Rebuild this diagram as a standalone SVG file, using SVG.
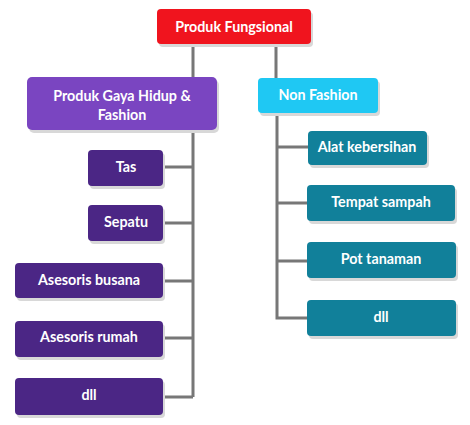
<svg xmlns="http://www.w3.org/2000/svg" width="470" height="425" viewBox="0 0 470 425">
<defs>
<style>
.sh{fill:#d8d8d8}
.t{font-family:Lato,"Open Sans","Liberation Sans",sans-serif;font-weight:bold;font-size:14.3px;fill:#fff;text-anchor:middle;dominant-baseline:central}
.c{stroke:#777;stroke-width:3;fill:none}
.red{fill:#f0141e}
.pur{fill:#7a45c1}
.dp{fill:#4b2685}
.cy{fill:#1fc8f3}
.tl{fill:#11809a}
</style>
</defs>
<rect width="470" height="425" fill="#fff"/>
<g id="connectors">
<path class="c" d="M193 44V78M276 44V79"/>
<path class="c" d="M193 130V397M163 167H193M163 223H193M163 281H193M163 338H193M163 397H193"/>
<path class="c" d="M277 113V318H308M277 147H308M277 203H308M277 261H308"/>
</g>
<g id="n0"><rect class="sh" x="159" y="12" width="154" height="35" rx="4"/><rect class="red" x="157" y="9" width="154" height="35" rx="4"/><text class="t" x="234" y="26">Produk Fungsional</text></g>
<g id="n1"><rect class="sh" x="29" y="80" width="190" height="53" rx="5"/><rect class="pur" x="27" y="77" width="190" height="53" rx="5"/><text class="t" x="122" y="95">Produk Gaya Hidup &amp;</text><text class="t" x="122" y="114">Fashion</text></g>
<g id="n2"><rect class="sh" x="260" y="81" width="120" height="35" rx="4"/><rect class="cy" x="258" y="78" width="120" height="35" rx="4"/><text class="t" x="318" y="94.5">Non Fashion</text></g>
<g id="n3"><rect class="sh" x="90" y="153" width="75" height="36" rx="4"/><rect class="dp" x="88" y="150" width="75" height="36" rx="4"/><text class="t" x="126" y="166">Tas</text></g>
<g id="n4"><rect class="sh" x="90" y="208" width="75" height="36" rx="4"/><rect class="dp" x="88" y="205" width="75" height="36" rx="4"/><text class="t" x="126" y="221.5">Sepatu</text></g>
<g id="n5"><rect class="sh" x="17" y="266" width="148" height="35" rx="4"/><rect class="dp" x="15" y="263" width="148" height="35" rx="4"/><text class="t" x="89" y="279">Asesoris busana</text></g>
<g id="n6"><rect class="sh" x="17" y="324" width="148" height="36" rx="4"/><rect class="dp" x="15" y="321" width="148" height="36" rx="4"/><text class="t" x="89" y="336.5">Asesoris rumah</text></g>
<g id="n7"><rect class="sh" x="17" y="381" width="148" height="37" rx="4"/><rect class="dp" x="15" y="378" width="148" height="37" rx="4"/><text class="t" x="89" y="394.5">dll</text></g>
<g id="n8"><rect class="sh" x="310" y="134" width="119" height="34" rx="4"/><rect class="tl" x="308" y="131" width="119" height="34" rx="4"/><text class="t" x="367" y="146.5">Alat kebersihan</text></g>
<g id="n9"><rect class="sh" x="309" y="188" width="148" height="36" rx="4"/><rect class="tl" x="307" y="185" width="148" height="36" rx="4"/><text class="t" x="381" y="201.5">Tempat sampah</text></g>
<g id="n10"><rect class="sh" x="309" y="245" width="149" height="36" rx="4"/><rect class="tl" x="307" y="242" width="149" height="36" rx="4"/><text class="t" x="381" y="258.5">Pot tanaman</text></g>
<g id="n11"><rect class="sh" x="309" y="303" width="149" height="36" rx="4"/><rect class="tl" x="307" y="300" width="149" height="36" rx="4"/><text class="t" x="381" y="316.5">dll</text></g>
</svg>
